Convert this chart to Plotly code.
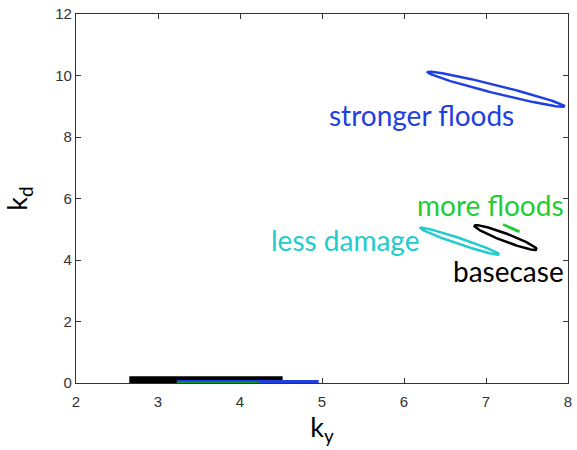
import numpy as np
import plotly.graph_objects as go

# Ellipse data: name, colour, centre (x,y), half-major vector, half-minor vector (data units)
ell_names = ["stronger floods", "less damage", "basecase", "more floods"]
ell_colors = ["#1f3fe0", "#22cccc", "#000000", "#22cc33"]
ell_cx = [7.125, 6.68, 7.24, 7.31]
ell_cy = [9.55, 4.61, 4.73, 5.035]
ell_ux = [0.835, 0.48, 0.38, 0.10]
ell_uy = [-0.555, -0.43, -0.385, -0.115]
ell_vx = [-0.012, -0.012, -0.016, -0.002]
ell_vy = [-0.13, -0.09, -0.12, -0.01]

# Bands at k_d ~ 0
band_colors = ["#000000", "#1f3fe0", "#119933"]
band_x0 = [2.65, 3.23, 3.23]
band_x1 = [4.52, 4.96, 4.23]
band_h = [0.22, 0.10, 0.04]

# Labels
lab_text = ["stronger floods", "more floods", "less damage", "basecase"]
lab_colors = ["#1f3fe0", "#22cc33", "#22cccc", "#000000"]
lab_x = [6.21, 7.05, 5.28, 7.27]
lab_y = [8.70, 5.80, 4.65, 3.65]

fig = go.Figure()
t = np.linspace(0, 2 * np.pi, 200)
for i in range(len(ell_names)):
    xs = ell_cx[i] + ell_ux[i] * np.cos(t) + ell_vx[i] * np.sin(t)
    ys = ell_cy[i] + ell_uy[i] * np.cos(t) + ell_vy[i] * np.sin(t)
    fig.add_trace(go.Scatter(x=xs, y=ys, mode="lines",
                             line=dict(color=ell_colors[i], width=2.5),
                             hoverinfo="skip", showlegend=False))

for i in range(len(band_x0)):
    fig.add_trace(go.Scatter(x=[band_x0[i], band_x1[i], band_x1[i], band_x0[i], band_x0[i]],
                             y=[0, 0, band_h[i], band_h[i], 0],
                             mode="lines", fill="toself", fillcolor=band_colors[i],
                             line=dict(color=band_colors[i], width=0),
                             hoverinfo="skip", showlegend=False))

for i in range(len(lab_text)):
    fig.add_annotation(x=lab_x[i], y=lab_y[i], text=lab_text[i], showarrow=False,
                       font=dict(family="Lato", size=28, color=lab_colors[i]),
                       xanchor="center", yanchor="middle")

axis_common = dict(showgrid=False, zeroline=False, showline=True, linecolor="#333333",
                   linewidth=1.2, mirror="ticks", ticks="inside", ticklen=5,
                   tickcolor="#333333", layer="below traces",
                   tickfont=dict(family="Liberation Sans", size=15, color="#333333"))

fig.update_xaxes(range=[2, 8], dtick=1, ticklabelstandoff=5,
                 title=dict(text="k<sub>y</sub>",
                            font=dict(family="Lato", size=27, color="#000"), standoff=0),
                 **axis_common)
fig.update_yaxes(range=[0, 12], dtick=2,
                 title=dict(text="k<sub>d</sub>",
                            font=dict(family="Lato", size=27, color="#000"), standoff=20),
                 **axis_common)

fig.update_layout(width=577, height=450, margin=dict(l=76, r=5, t=13, b=67),
                  paper_bgcolor="white", plot_bgcolor="white")

# remove the default page margin so the figure fills the 577x450 window exactly
fig.write_html("out.html", config={"displayModeBar": False},
               post_script="document.body.style.margin='0';document.body.style.overflow='hidden';")
